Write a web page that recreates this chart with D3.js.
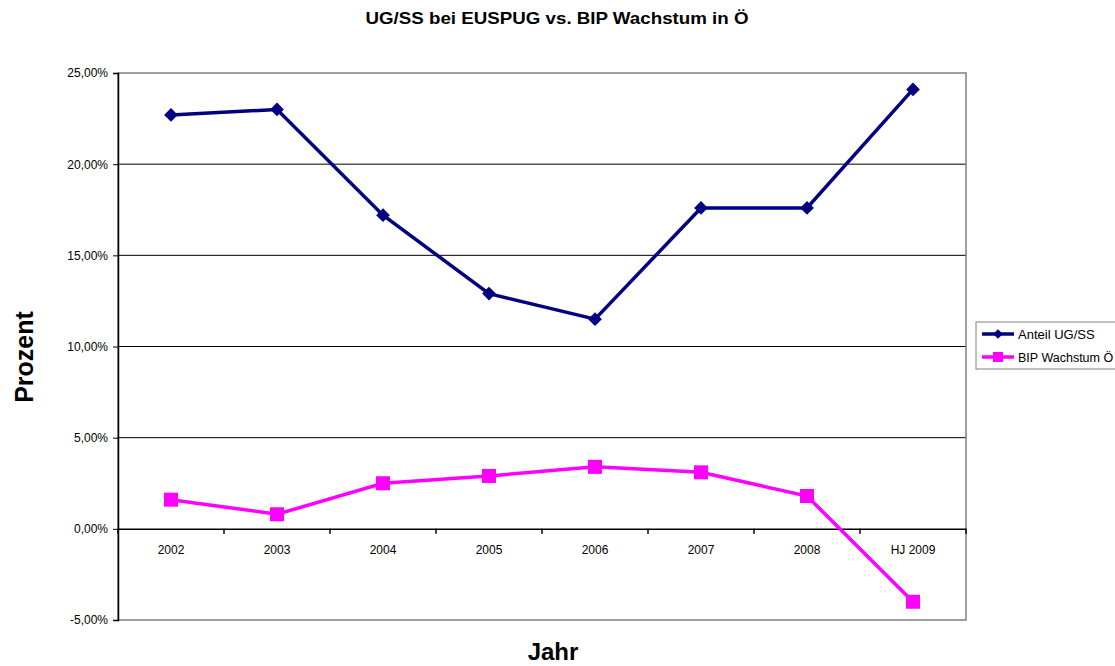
<!DOCTYPE html>
<html>
<head>
<meta charset="utf-8">
<script src="https://cdn.jsdelivr.net/npm/d3@7"></script>
<style>
    body { margin: 0; background: #fff; }
    svg { font-family: "Liberation Sans", Arial, sans-serif; }
</style>
</head>
<body>
<div id="chart"></div>
<script>
var years = ['2002', '2003', '2004', '2005', '2006', '2007', '2008', 'HJ 2009'];
var anteilUGSS = [22.7, 23.0, 17.2, 12.9, 11.5, 17.6, 17.6, 24.1];
var bipWachstum = [1.6, 0.8, 2.5, 2.9, 3.4, 3.1, 1.8, -4.0];
var yTicks = [-5, 0, 5, 10, 15, 20, 25];

var W = 1115, H = 666;
var margin = {top: 73, right: 149, bottom: 46, left: 118},
    width = W - margin.left - margin.right,
    height = H - margin.top - margin.bottom;

var svg = d3.select('#chart').append('svg')
    .attr('width', W)
    .attr('height', H);

var g = svg.append('g')
    .attr('transform', 'translate(' + margin.left + ',' + margin.top + ')');

var xScale = d3.scaleBand().domain(years).range([0, width]),
    yScale = d3.scaleLinear().domain([-5, 25]).range([height, 0]);

function fmt(v) {
    return v.toFixed(2).replace('.', ',') + '%';
}

// gridlines
g.selectAll('.grid')
    .data(yTicks.filter(function (d) { return d !== 25 && d !== -5 && d !== 0; }))
    .enter().append('line')
    .attr('x1', 0).attr('x2', width)
    .attr('y1', function (d) { return yScale(d); })
    .attr('y2', function (d) { return yScale(d); })
    .attr('stroke', '#000').attr('stroke-width', 1);

// plot frame (gray)
g.append('rect')
    .attr('x', 0).attr('y', 0)
    .attr('width', width).attr('height', height)
    .attr('fill', 'none').attr('stroke', '#808080').attr('stroke-width', 1.5);

// y axis
var yAxis = g.append('g')
    .call(d3.axisLeft(yScale).tickValues(yTicks).tickSize(5).tickFormat(fmt));
yAxis.select('.domain').attr('stroke', '#000').attr('stroke-width', 1.5);
yAxis.selectAll('.tick text').attr('font-size', 12).attr('fill', '#000').attr('dx', '-2');

// x axis on zero line
var xAxis = g.append('g')
    .attr('transform', 'translate(0,' + yScale(0) + ')')
    .call(d3.axisBottom(xScale).tickSize(0).tickPadding(17));
xAxis.select('.domain').attr('stroke', '#000').attr('stroke-width', 1.5);
xAxis.selectAll('.tick text').attr('font-size', 12).attr('fill', '#000');
xAxis.selectAll('.sep')
    .data(d3.range(years.length + 1))
    .enter().append('line')
    .attr('x1', function (i) { return i * xScale.bandwidth(); })
    .attr('x2', function (i) { return i * xScale.bandwidth(); })
    .attr('y1', 0).attr('y2', 5)
    .attr('stroke', '#000').attr('stroke-width', 1.5);

var line = d3.line()
    .x(function (d, i) { return xScale(years[i]) + xScale.bandwidth() / 2; })
    .y(function (d) { return yScale(d); });

var navy = '#000080', pink = '#ff00ff';

g.append('path').datum(anteilUGSS)
    .attr('d', line).attr('fill', 'none')
    .attr('stroke', navy).attr('stroke-width', 3.5);
g.selectAll('.dia').data(anteilUGSS).enter().append('path')
    .attr('d', d3.symbol().type(d3.symbolDiamond2).size(120))
    .attr('transform', function (d, i) {
        return 'translate(' + (xScale(years[i]) + xScale.bandwidth() / 2) + ',' + yScale(d) + ')';
    })
    .attr('fill', navy);

g.append('path').datum(bipWachstum)
    .attr('d', line).attr('fill', 'none')
    .attr('stroke', pink).attr('stroke-width', 3.5);
g.selectAll('.sq').data(bipWachstum).enter().append('rect')
    .attr('x', function (d, i) { return xScale(years[i]) + xScale.bandwidth() / 2 - 7; })
    .attr('y', function (d) { return yScale(d) - 7; })
    .attr('width', 14).attr('height', 14)
    .attr('fill', pink);

// titles
svg.append('text')
    .attr('x', 557).attr('y', 24)
    .attr('text-anchor', 'middle')
    .attr('font-size', 17).attr('font-weight', 'bold')
    .attr('textLength', 383).attr('lengthAdjust', 'spacingAndGlyphs')
    .text('UG/SS bei EUSPUG vs. BIP Wachstum in Ö');

svg.append('text')
    .attr('x', 553).attr('y', 660)
    .attr('text-anchor', 'middle')
    .attr('font-size', 24).attr('font-weight', 'bold')
    .text('Jahr');

svg.append('text')
    .attr('transform', 'translate(33,357) rotate(-90)')
    .attr('text-anchor', 'middle')
    .attr('font-size', 25).attr('font-weight', 'bold')
    .text('Prozent');

// legend
var legend = svg.append('g').attr('transform', 'translate(976,322)');
legend.append('rect')
    .attr('width', 150).attr('height', 47)
    .attr('fill', '#fff').attr('stroke', '#808080');
var legItems = [
    {name: 'Anteil UG/SS', color: navy, shape: 'diamond'},
    {name: 'BIP Wachstum Ö', color: pink, shape: 'square'}
];
legItems.forEach(function (it, i) {
    var y = 12 + i * 23;
    legend.append('line')
        .attr('x1', 6).attr('x2', 38).attr('y1', y).attr('y2', y)
        .attr('stroke', it.color).attr('stroke-width', 3.5);
    if (it.shape === 'diamond') {
        legend.append('path')
            .attr('d', d3.symbol().type(d3.symbolDiamond2).size(60))
            .attr('transform', 'translate(22,' + y + ')')
            .attr('fill', it.color);
    } else {
        legend.append('rect')
            .attr('x', 17).attr('y', y - 5).attr('width', 10).attr('height', 10)
            .attr('fill', it.color);
    }
    legend.append('text')
        .attr('x', 42).attr('y', y + 4.5)
        .attr('font-size', it.name.length > 13 ? 12.5 : 13).attr('fill', '#000')
        .text(it.name);
});
</script>
</body>
</html>
